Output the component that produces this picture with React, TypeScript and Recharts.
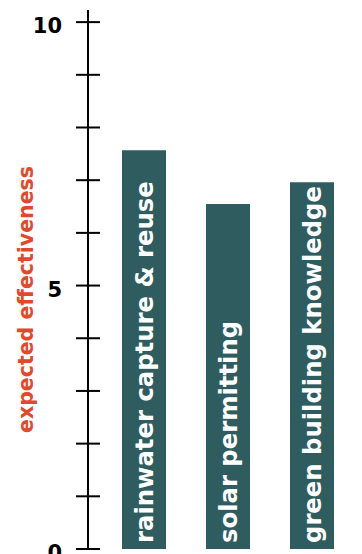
import React from 'react';
import { BarChart, Bar, XAxis, YAxis, LabelList } from 'recharts';

const categories = ['rainwater capture & reuse', 'solar permitting', 'green building knowledge'];
const effectiveness = [7.57, 6.55, 6.96];
const yTicks = [0, 1, 2, 3, 4, 5, 6, 7, 8, 9, 10];
const labeledTicks = [0, 5, 10];

const data = categories.map((name, i) => ({ name, value: effectiveness[i] }));

const FONT = '"DejaVu Sans", sans-serif';

const YTick = (props: any) => {
  const { x, y, payload } = props;
  const v = payload.value;
  return (
    <g>
      <line x1={x - 12} x2={x + 12} y1={y} y2={y} stroke="#000" strokeWidth={2} />
      {labeledTicks.includes(v) && (
        <text x={x - 26} y={y + 11} textAnchor="end" fontFamily={FONT} fontWeight="bold" fontSize={21} fill="#000">
          {v}
        </text>
      )}
    </g>
  );
};

const BarText = (props: any) => {
  const { x, y, width, height, value } = props;
  const cx = x + width / 2;
  const by = y + height - 6;
  return (
    <text
      x={cx}
      y={by}
      transform={`rotate(-90 ${cx} ${by})`}
      textAnchor="start"
      dominantBaseline="central"
      fontFamily={FONT}
      fontWeight="bold"
      fontSize={24.3}
      fill="#fff"
    >
      {value}
    </text>
  );
};

export default function App() {
  return (
    <div style={{ position: 'absolute', left: 0, top: 0, width: 362, height: 554, background: '#fff' }}>
      <BarChart width={362} height={554} data={data} margin={{ top: 10, right: 0, bottom: 5, left: 0 }}>
        <XAxis
          dataKey="name"
          height={0}
          tick={false}
          tickLine={false}
          axisLine={{ stroke: '#000', strokeWidth: 2 }}
          padding={{ left: 14, right: 8 }}
        />
        <YAxis
          width={88}
          domain={[0, 10.23]}
          ticks={yTicks}
          interval={0}
          tickSize={0}
          tickMargin={0}
          tickLine={false}
          axisLine={{ stroke: '#000', strokeWidth: 2 }}
          tick={<YTick />}
          label={{
            value: 'expected effectiveness',
            angle: -90,
            position: 'insideLeft',
            dx: 21,
            dy: 20,
            style: { fontFamily: FONT, fontWeight: 'bold', fontSize: 20.5, fill: '#e2492c', textAnchor: 'middle' },
          }}
        />
        <Bar dataKey="value" fill="#2f5d5f" barSize={44} isAnimationActive={false}>
          <LabelList dataKey="name" content={<BarText />} />
        </Bar>
      </BarChart>
    </div>
  );
}
